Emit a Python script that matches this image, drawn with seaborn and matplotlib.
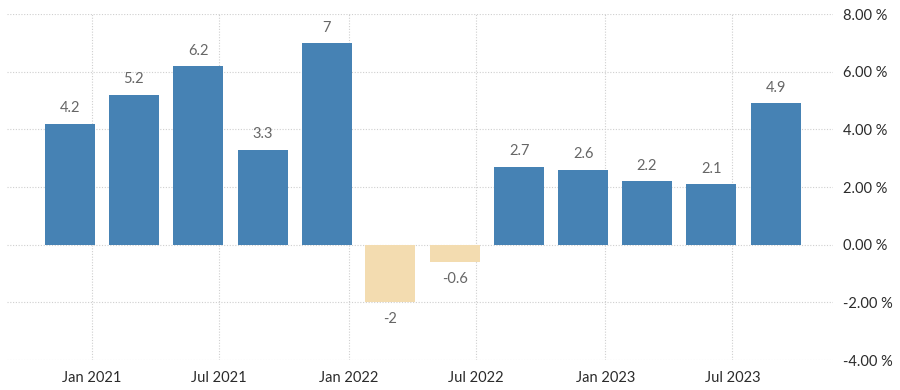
import matplotlib
matplotlib.use("Agg")
import matplotlib.pyplot as plt
import matplotlib.dates as mdates
import numpy as np
import pandas as pd
import seaborn as sns

# kvartalni podaci (datum = prvi dan zadnjeg mjeseca kvartala)
datumi = ["2020-12-01", "2021-03-01", "2021-06-01", "2021-09-01",
          "2021-12-01", "2022-03-01", "2022-06-01", "2022-09-01",
          "2022-12-01", "2023-03-01", "2023-06-01", "2023-09-01"]
vrijednosti = [4.2, 5.2, 6.2, 3.3, 7.0, -2.0, -0.6, 2.7, 2.6, 2.2, 2.1, 4.9]
oznake = ["4.2", "5.2", "6.2", "3.3", "7", "-2", "-0.6", "2.7", "2.6", "2.2", "2.1", "4.9"]

y_ticks = [-4, -2, 0, 2, 4, 6, 8]

PLAVA = "#4682b4"
BEZ = "#f3dcb0"

sns.set_theme(style="white")
plt.rcParams["font.family"] = ["Lato", "DejaVu Sans"]

df = pd.DataFrame({
    "datum": mdates.date2num(pd.to_datetime(datumi)),
    "vrijednost": vrijednosti,
})
df["predznak"] = np.where(df["vrijednost"] >= 0, "pos", "neg")

fig = plt.figure(figsize=(9, 3.9), dpi=100)
ax = fig.add_axes([7 / 900, 30 / 390, 826 / 900, 346 / 390])

sns.barplot(data=df, x="datum", y="vrijednost", hue="predznak",
            palette={"pos": PLAVA, "neg": BEZ}, native_scale=True,
            saturation=1, width=0.79, errorbar=None, legend=False,
            linewidth=0, ax=ax)

for x, v, t in zip(df["datum"], vrijednosti, oznake):
    if v >= 0:
        ax.annotate(t, (x, v), xytext=(0, 6), textcoords="offset points",
                    ha="center", va="bottom", fontsize=10.5, color="#666666")
    else:
        ax.annotate(t, (x, v), xytext=(0, -7), textcoords="offset points",
                    ha="center", va="top", fontsize=10.5, color="#666666")

ax.set_xlim(mdates.date2num(pd.Timestamp("2020-09-02")),
            mdates.date2num(pd.Timestamp("2023-11-21")))
ax.set_ylim(-4, 8)
ax.xaxis.set_major_locator(mdates.MonthLocator(bymonth=[1, 7]))
ax.xaxis.set_major_formatter(mdates.DateFormatter("%b %Y"))
ax.set_yticks(y_ticks)
ax.set_yticklabels([f"{t:.2f} %" for t in y_ticks])
ax.yaxis.tick_right()

ax.grid(True, color="#cfcfcf", linestyle=(0, (1, 1.5)), linewidth=0.8)
ax.set_axisbelow(True)
for s in ax.spines.values():
    s.set_visible(False)

ax.tick_params(axis="y", length=0, pad=7, labelsize=10.5, colors="#2b2b2b")
ax.tick_params(axis="x", length=4, width=0.8, color="#cfcfcf", pad=4,
               labelsize=10.5, labelcolor="#2b2b2b")
ax.set_xlabel("")
ax.set_ylabel("")

fig.savefig("out.png", dpi=100)
